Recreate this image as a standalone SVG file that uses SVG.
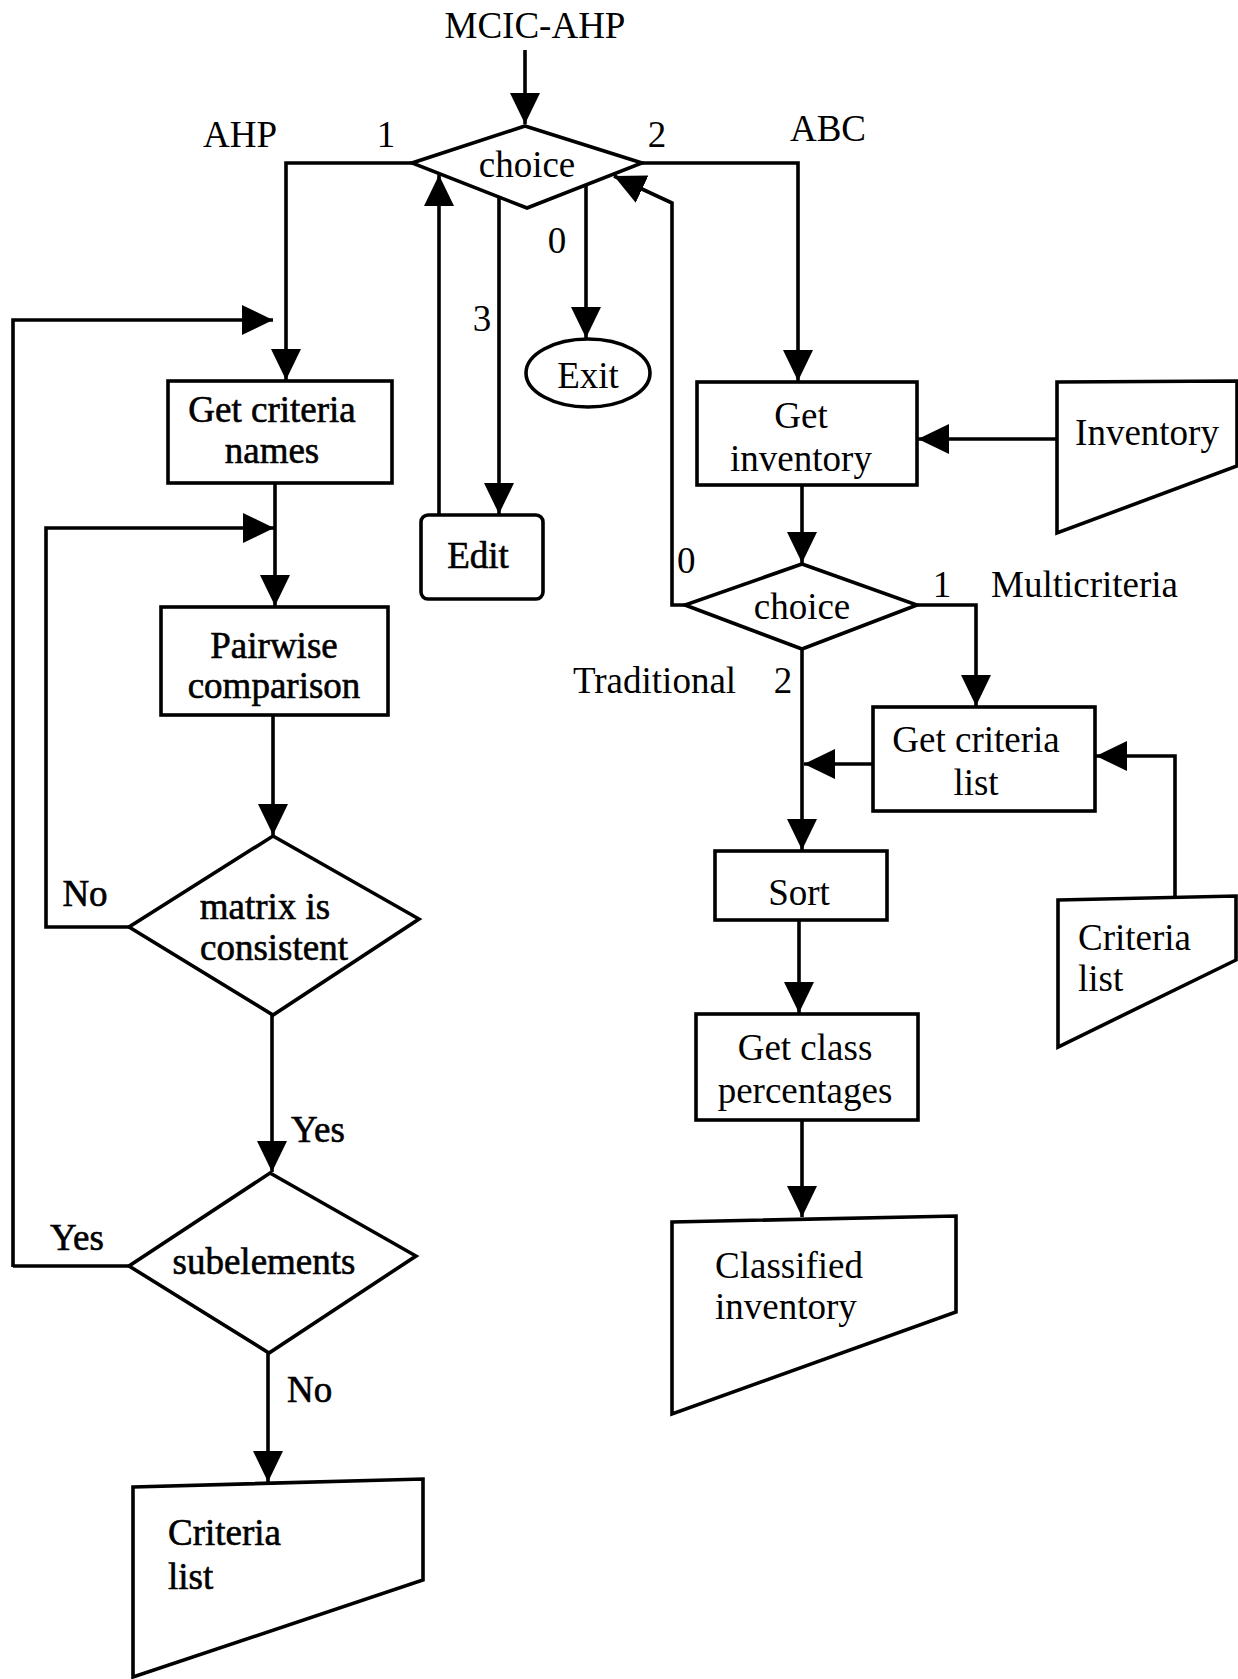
<svg xmlns="http://www.w3.org/2000/svg" width="1238" height="1679" viewBox="0 0 1238 1679">
<style>
.s{fill:none;stroke:#000;stroke-width:3.6;stroke-linejoin:miter}
.n{fill:#fff;stroke:#000;stroke-width:3.6}
text{font-family:"Liberation Serif","Times New Roman",serif;font-size:37px;fill:#000}
.l{font-size:37px;stroke:#000;stroke-width:0.6}
.m{text-anchor:middle}
</style>
<defs>
<marker id="ah" markerUnits="userSpaceOnUse" markerWidth="34" markerHeight="32" refX="31" refY="15" orient="auto">
<path d="M0,0 L31,15 L0,30 z" fill="#000"/>
</marker>
</defs>
<rect width="1238" height="1679" fill="#fff"/>

<g id="connectors">
<path class="s" d="M525,50 V124" marker-end="url(#ah)"/>
<path class="s" d="M412,163 H286 V380" marker-end="url(#ah)"/>
<path class="s" d="M642,163 H798 V381" marker-end="url(#ah)"/>
<path class="s" d="M586,186 V338" marker-end="url(#ah)"/>
<path class="s" d="M499,197 V514" marker-end="url(#ah)"/>
<path class="s" d="M439,515 V175" marker-end="url(#ah)"/>
<path class="s" d="M685,605 H672 V203 L614,176" marker-end="url(#ah)"/>
<path class="s" d="M13,1267 V320 H273" marker-end="url(#ah)"/>
<path class="s" d="M275,483 V606" marker-end="url(#ah)"/>
<path class="s" d="M129,927 H46 V528 H274" marker-end="url(#ah)"/>
<path class="s" d="M273,715 V835" marker-end="url(#ah)"/>
<path class="s" d="M272,1015 V1172" marker-end="url(#ah)"/>
<path class="s" d="M129,1266 H13"/>
<path class="s" d="M268,1353 V1482" marker-end="url(#ah)"/>
<path class="s" d="M1057,439 H918" marker-end="url(#ah)"/>
<path class="s" d="M802,485 V563" marker-end="url(#ah)"/>
<path class="s" d="M917,605 H976 V706" marker-end="url(#ah)"/>
<path class="s" d="M802,649 V850" marker-end="url(#ah)"/>
<path class="s" d="M873,764 H804" marker-end="url(#ah)"/>
<path class="s" d="M1175,898 V756 H1096" marker-end="url(#ah)"/>
<path class="s" d="M799,920 V1013" marker-end="url(#ah)"/>
<path class="s" d="M802,1120 V1217" marker-end="url(#ah)"/>
</g>

<g id="labels">
<text x="535" y="38" class="m">MCIC-AHP</text>
<text x="240" y="147" class="m">AHP</text>
<text x="386" y="147" class="m">1</text>
<text x="657" y="147" class="m">2</text>
<text x="828" y="141" class="m">ABC</text>
<text x="557" y="253" class="m">0</text>
<text x="482" y="331" class="m">3</text>
<text x="85" y="906" class="m l">No</text>
<text x="291" y="1142" class="l">Yes</text>
<text x="50" y="1250" class="l">Yes</text>
<text x="287" y="1402" class="l">No</text>
<text x="677" y="573">0</text>
<text x="942" y="597" class="m">1</text>
<text x="991" y="597">Multicriteria</text>
<text x="573" y="693">Traditional</text>
<text x="783" y="693" class="m">2</text>
</g>

<g id="choice-main">
<polygon class="n" points="525,126 642,163 527,208 412,163"/>
<text x="527" y="177" class="m">choice</text>
</g>
<g id="exit">
<ellipse class="n" cx="588" cy="373" rx="62" ry="34"/>
<text x="588" y="388" class="m">Exit</text>
</g>
<g id="edit">
<rect class="n" x="421" y="515" width="122" height="84" rx="7"/>
<text x="478" y="568" class="m l">Edit</text>
</g>
<g id="get-criteria-names">
<rect class="n" x="168" y="381" width="224" height="102"/>
<text x="272" y="422" class="m l">Get criteria</text>
<text x="272" y="463" class="m l">names</text>
</g>
<g id="pairwise">
<rect class="n" x="161" y="607" width="227" height="108"/>
<text x="274" y="658" class="m l">Pairwise</text>
<text x="274" y="698" class="m l">comparison</text>
</g>
<g id="matrix-consistent">
<polygon class="n" points="273,836 419,919 273,1015 129,927"/>
<text x="265" y="919" class="m l">matrix is</text>
<text x="274" y="960" class="m l">consistent</text>
</g>
<g id="subelements">
<polygon class="n" points="270,1173 416,1256 269,1353 129,1266"/>
<text x="264" y="1274" class="m l">subelements</text>
</g>
<g id="criteria-list-left">
<polygon class="n" points="133,1487 423,1479 423,1580 133,1677"/>
<text x="168" y="1545" class="l">Criteria</text>
<text x="168" y="1589" class="l">list</text>
</g>
<g id="get-inventory">
<rect class="n" x="697" y="382" width="220" height="103"/>
<text x="801" y="428" class="m">Get</text>
<text x="801" y="471" class="m">inventory</text>
</g>
<g id="inventory">
<polygon class="n" points="1057,382 1237,381 1237,466 1057,533"/>
<text x="1147" y="445" class="m">Inventory</text>
</g>
<g id="choice-abc">
<polygon class="n" points="802,564 917,605 802,649 685,605"/>
<text x="802" y="619" class="m">choice</text>
</g>
<g id="get-criteria-list">
<rect class="n" x="873" y="707" width="222" height="104"/>
<text x="976" y="752" class="m">Get criteria</text>
<text x="976" y="795" class="m">list</text>
</g>
<g id="criteria-list-right">
<polygon class="n" points="1058,900 1236,896 1236,960 1058,1047"/>
<text x="1078" y="950">Criteria</text>
<text x="1078" y="991">list</text>
</g>
<g id="sort">
<rect class="n" x="715" y="851" width="172" height="69"/>
<text x="799" y="905" class="m">Sort</text>
</g>
<g id="get-class-percentages">
<rect class="n" x="696" y="1014" width="222" height="106"/>
<text x="805" y="1060" class="m">Get class</text>
<text x="805" y="1103" class="m">percentages</text>
</g>
<g id="classified-inventory">
<polygon class="n" points="672,1222 956,1216 956,1312 672,1414"/>
<text x="715" y="1278">Classified</text>
<text x="715" y="1319">inventory</text>
</g>
</svg>
